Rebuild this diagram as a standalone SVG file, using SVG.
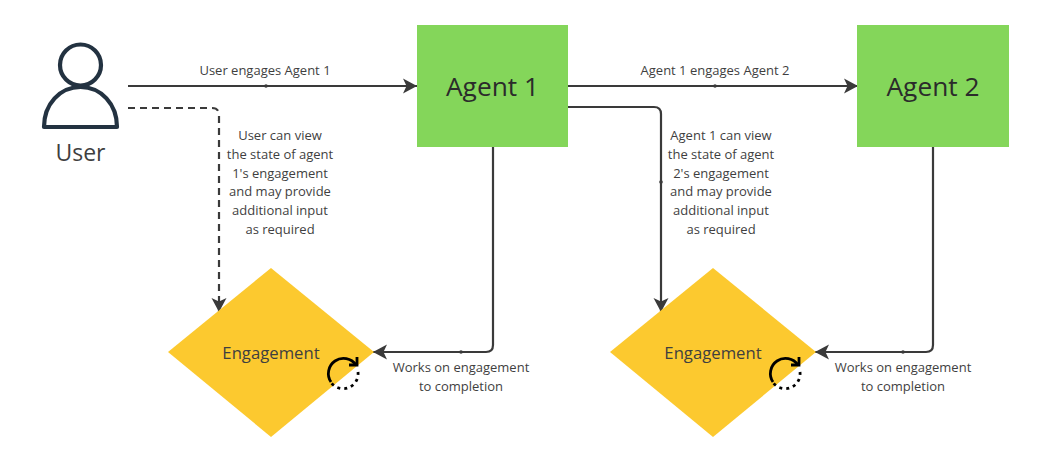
<svg xmlns="http://www.w3.org/2000/svg" width="1055" height="460" viewBox="0 0 1055 460">
<style>
text{font-family:"Open Sans","Noto Sans","Liberation Sans",sans-serif;fill:#3f3f3f;text-anchor:middle}
.lbl{font-size:13px}
.big{font-size:26.3px;fill:#2b2b2b}
.mid{font-size:16.700px}
.con{fill:none;stroke:#3a3a3a;stroke-width:2.200}
.agent{fill:#84d65a}
.dia{fill:#fcc92f}
.u{fill:none;stroke:#233241;stroke-width:4.2;stroke-linejoin:round}
.dot{fill:#3a3a3a}
.loop{fill:none;stroke:#000;stroke-width:2.800}
</style>
<defs>
<marker id="ah" markerUnits="userSpaceOnUse" markerWidth="17" markerHeight="17" refX="14" refY="8" orient="auto"><path d="M0 0.500L14 8L0 15.500L3.500 8Z" fill="#3a3a3a"/></marker>
</defs>
<rect width="1055" height="460" fill="#fff"/>
<g id="connectors">
<path class="con" marker-end="url(#ah)" d="M128 86H417"/>
<circle class="dot" cx="266" cy="86" r="1.800"/>
<path class="con" marker-end="url(#ah)" d="M568 86H858"/>
<circle class="dot" cx="715" cy="86" r="1.800"/>
<path class="con" stroke-dasharray="7 5" marker-end="url(#ah)" d="M128 108H212Q219 108 219 115V312"/>
<path class="con" marker-end="url(#ah)" d="M568 107H654Q661 107 661 114V312"/>
<circle class="dot" cx="661" cy="182" r="1.800"/>
<path class="con" marker-end="url(#ah)" d="M493 147V345Q493 352 486 352H373"/>
<circle class="dot" cx="461" cy="352" r="1.800"/>
<path class="con" marker-end="url(#ah)" d="M933 147V345Q933 352 926 352H815"/>
<circle class="dot" cx="903" cy="352" r="1.800"/>
<text class="lbl" x="265" y="75">User engages Agent 1</text>
<text class="lbl" x="715" y="75">Agent 1 engages Agent 2</text>
<text class="lbl"><tspan x="280" y="140">User can view</tspan><tspan x="280" y="159">the state of agent</tspan><tspan x="280" y="178">1's engagement</tspan><tspan x="280" y="196">and may provide</tspan><tspan x="280" y="215">additional input</tspan><tspan x="280" y="234">as required</tspan></text>
<text class="lbl"><tspan x="721" y="140">Agent 1 can view</tspan><tspan x="721" y="159">the state of agent</tspan><tspan x="721" y="178">2's engagement</tspan><tspan x="721" y="196">and may provide</tspan><tspan x="721" y="215">additional input</tspan><tspan x="721" y="234">as required</tspan></text>
<text class="lbl"><tspan x="461" y="372">Works on engagement</tspan><tspan x="461" y="391">to completion</tspan></text>
<text class="lbl"><tspan x="903" y="372">Works on engagement</tspan><tspan x="903" y="391">to completion</tspan></text>
</g>
<g id="user">
<circle class="u" cx="80.500" cy="65" r="20.500"/>
<path class="u" d="M44 127C44 104 60 87 80.500 87S117 104 117 127Z"/>
<text x="80.500" y="161" style="font-size:23px">User</text>
</g>
<g id="agent1"><rect class="agent" x="417" y="25" width="151" height="122"/><text class="big" x="492.500" y="95.500">Agent 1</text></g>
<g id="agent2"><rect class="agent" x="857" y="25" width="152" height="122"/><text class="big" x="933" y="95.500">Agent 2</text></g>
<g id="engagement1">
<path class="dia" d="M271 268L374 352L271 437L168 352Z"/>
<text class="mid" x="271" y="359">Engagement</text>
<path class="loop" d="M331 382A15 15 0 0 1 356 365"/>
<path class="loop" d="M357 357V365H349"/>
<path class="loop" stroke-dasharray="3 4" d="M358 372A15 15 0 0 1 330 381"/>
</g>
<g id="engagement2">
<path class="dia" d="M713 268L816 352L713 437L610 352Z"/>
<text class="mid" x="713" y="359">Engagement</text>
<path class="loop" d="M773 382A15 15 0 0 1 798 365"/>
<path class="loop" d="M799 357V365H791"/>
<path class="loop" stroke-dasharray="3 4" d="M800 372A15 15 0 0 1 772 381"/>
</g>
</svg>
